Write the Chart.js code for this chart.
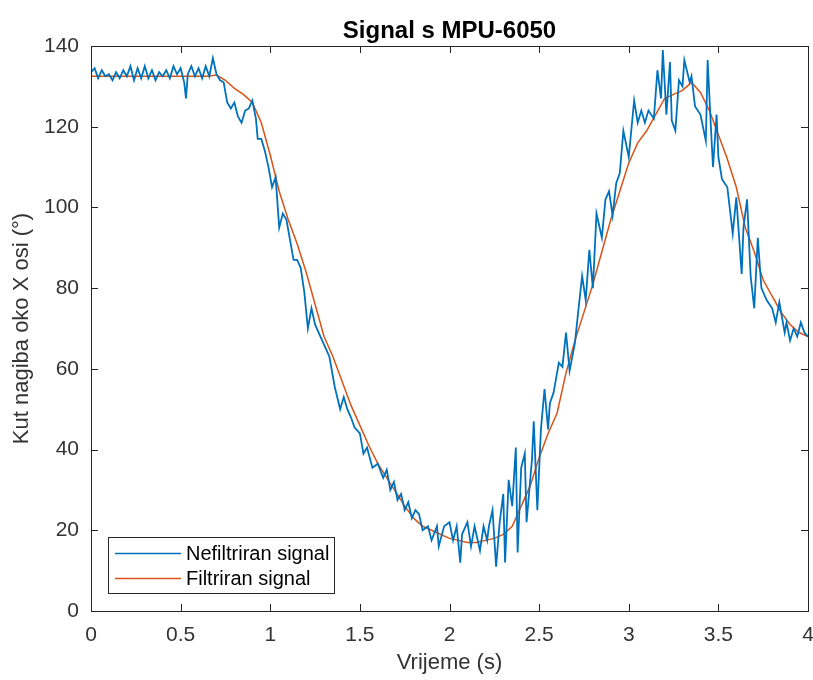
<!DOCTYPE html>
<html>
<head>
<meta charset="utf-8">
<script src="https://cdn.jsdelivr.net/npm/chart.js@4"></script>
<style>
html,body{margin:0;padding:0;background:#fff;}
#wrap{width:813px;height:680px;}
</style>
</head>
<body>
<div id="wrap"><canvas id="c" width="813" height="680"></canvas></div>
<script>
const rawTime = [0.00,0.02,0.04,0.06,0.08,0.10,0.12,0.14,0.16,0.18,0.20,0.22,0.24,0.26,0.28,0.30,0.32,0.34,0.36,0.38,0.40,0.42,0.44,0.46,0.48,0.50,0.52,0.53,0.54,0.56,0.58,0.60,0.62,0.64,0.66,0.68,0.70,0.72,0.74,0.76,0.78,0.80,0.82,0.84,0.86,0.88,0.90,0.92,0.93,0.95,0.97,0.99,1.01,1.03,1.05,1.07,1.09,1.11,1.13,1.15,1.17,1.19,1.21,1.23,1.25,1.27,1.29,1.31,1.33,1.36,1.39,1.41,1.43,1.45,1.47,1.50,1.52,1.54,1.57,1.60,1.63,1.65,1.67,1.69,1.71,1.73,1.75,1.77,1.79,1.81,1.83,1.85,1.88,1.90,1.93,1.94,1.97,2.00,2.02,2.04,2.06,2.07,2.10,2.12,2.14,2.17,2.19,2.21,2.22,2.24,2.26,2.28,2.30,2.31,2.33,2.35,2.37,2.38,2.40,2.42,2.43,2.46,2.47,2.49,2.51,2.53,2.55,2.56,2.58,2.61,2.63,2.65,2.67,2.70,2.72,2.74,2.76,2.78,2.80,2.82,2.85,2.87,2.89,2.91,2.93,2.95,2.97,3.00,3.03,3.05,3.07,3.09,3.11,3.14,3.16,3.18,3.19,3.21,3.23,3.24,3.26,3.28,3.30,3.31,3.34,3.35,3.37,3.40,3.43,3.44,3.46,3.47,3.49,3.50,3.52,3.55,3.58,3.60,3.63,3.64,3.66,3.68,3.70,3.72,3.74,3.77,3.80,3.82,3.84,3.87,3.88,3.90,3.92,3.94,3.96,3.98,4.00];
const rawSignal = [133.5,134.5,132,134,132.5,133,131.5,133.5,132,134,132.5,135,131.5,134.5,132,135,132,134,131.5,133.5,132.5,134,132,135,133,134.5,131,127,133,135,132.5,134.5,132,135,132.5,137,133,131.5,131,126,124.5,126,122.5,121,124,124.5,126.5,122,117,117,114,110,105,107.5,95,98.5,97,92,87,87,85,79,70,75,71,69,67,65,63,55.5,50,53,50,48,45.5,44,39,40.5,35.5,36.5,33,35,30,32,27.5,29,25,27,23,25,24,20,21,17.5,21,16,21,22,17.5,21,12,19,22,16,21,15,21,17.5,21,25,11,22,29,12,32.5,26,40.5,14.5,35.5,39,22,37.5,47,25,45,55,45,51.5,54,61.5,60.5,69,59.5,66.5,75,83,77,89.5,80,98.5,92.5,102,104,98,106,108.5,119,112.5,126.5,121,124,121,124,122,134,127,139,123,136,121.5,119,131.5,130,136.5,131,132.5,125,123,116.5,136.5,118.5,110,123,112.5,107,105,93.5,102.5,83.5,95,102,83,75,92.5,80,77,75,71.5,76.5,69,71.5,67,70,68,71.5,69,68];

const filtTime = [0.00,0.05,0.10,0.15,0.20,0.25,0.30,0.35,0.40,0.45,0.50,0.55,0.60,0.65,0.70,0.75,0.80,0.85,0.90,0.95,1.00,1.05,1.10,1.15,1.20,1.25,1.30,1.35,1.40,1.45,1.50,1.55,1.60,1.65,1.70,1.75,1.80,1.85,1.90,1.95,2.00,2.05,2.10,2.15,2.20,2.25,2.30,2.35,2.40,2.45,2.50,2.55,2.60,2.65,2.70,2.75,2.80,2.85,2.90,2.95,3.00,3.05,3.10,3.15,3.20,3.25,3.30,3.35,3.40,3.45,3.50,3.55,3.60,3.65,3.70,3.75,3.80,3.85,3.90,3.95,4.00];
const filtSignal = [132.5,132.5,132.5,132.5,132.5,132.5,132.5,132.5,132.5,132.5,132.5,132.5,132.5,132.5,132.8,131.5,129.5,128,126,121,113,104,97,91,84,76,68,63,57,51,46,41,36.5,33,29.5,26,23,21,20,19,18,17.5,17,17,17.5,18,19,21,26,31,38,44,49,59,67,74,81,89,97,104,111,116,119,123,127,128,129,131,128.5,124,118,112,105,95,89,82,78,74,71,69,68];

const xTicks = [0,0.5,1,1.5,2,2.5,3,3.5,4];
const yTicks = [0,20,40,60,80,100,120,140];
const seriesNames = ['Nefiltriran signal','Filtriran signal'];

const BLUE = '#0072BD', ORANGE = '#D95319', AXIS = '#262626', TXT = '#333333';
const FONT = '"Liberation Sans", Arial, Helvetica, sans-serif';

const P_LEFT = 91, P_BOTTOM = 611;

const matlabAxes = {
  id: 'matlabAxes',
  afterDatasetsDraw(chart) {
    const {ctx, chartArea: a, scales} = chart;
    ctx.save();
    ctx.strokeStyle = AXIS;
    ctx.lineWidth = 1;
    ctx.beginPath();
    const tl = 7;
    xTicks.forEach(v => {
      const px = Math.round(scales.x.getPixelForValue(v)) + 0.5;
      ctx.moveTo(px, a.bottom); ctx.lineTo(px, a.bottom - tl);
      ctx.moveTo(px, a.top); ctx.lineTo(px, a.top + tl);
    });
    yTicks.forEach(v => {
      const py = Math.round(scales.y.getPixelForValue(v)) + 0.5;
      ctx.moveTo(a.left, py); ctx.lineTo(a.left + tl, py);
      ctx.moveTo(a.right, py); ctx.lineTo(a.right - tl, py);
    });
    ctx.stroke();
    ctx.strokeRect(Math.round(a.left) + 0.5, Math.round(a.top) + 0.5, Math.round(a.right - a.left), Math.round(a.bottom - a.top));
    // legend
    const lx = 108, ly = 537, lw = 226, lh = 56;
    ctx.fillStyle = '#fff';
    ctx.fillRect(lx, ly, lw, lh);
    ctx.strokeStyle = AXIS;
    ctx.strokeRect(lx + 0.5, ly + 0.5, lw, lh);
    const cols = [BLUE, ORANGE];
    const rows = [553, 578];
    ctx.font = '20px ' + FONT;
    ctx.textBaseline = 'middle';
    ctx.textAlign = 'left';
    seriesNames.forEach((n, i) => {
      ctx.strokeStyle = cols[i];
      ctx.lineWidth = 1.4;
      ctx.beginPath();
      ctx.moveTo(115, rows[i] + 0.5); ctx.lineTo(181, rows[i] + 0.5);
      ctx.stroke();
      ctx.fillStyle = '#000';
      ctx.fillText(n, 186, rows[i] + 1);
    });
    ctx.restore();
  }
};

new Chart(document.getElementById('c'), {
  type: 'line',
  data: {
    datasets: [
      {
        label: seriesNames[0],
        data: rawTime.map((t, i) => ({x: t, y: rawSignal[i]})),
        borderColor: BLUE, borderWidth: 1.8, pointRadius: 0, tension: 0, fill: false
      },
      {
        label: seriesNames[1],
        data: filtTime.map((t, i) => ({x: t, y: filtSignal[i]})),
        borderColor: ORANGE, borderWidth: 1.5, pointRadius: 0, tension: 0, fill: false
      }
    ]
  },
  options: {
    responsive: false,
    animation: false,
    devicePixelRatio: 1,
    layout: {padding: {left: 0, right: 5, top: 0, bottom: 0}},
    plugins: {
      legend: {display: false},
      tooltip: {enabled: false},
      title: {
        display: true,
        text: 'Signal s MPU-6050',
        fullSize: false,
        color: '#000',
        font: {family: FONT, size: 24, weight: 'bold', lineHeight: 1.2},
        padding: {top: 17, bottom: 0.2}
      }
    },
    scales: {
      x: {
        type: 'linear',
        min: 0, max: 4,
        afterBuildTicks(s) { s.ticks = xTicks.map(v => ({value: v})); },
        afterFit(s) { s.height = 680 - P_BOTTOM; s.paddingLeft = 0; s.paddingRight = 0; },
        grid: {display: false, drawTicks: false},
        border: {display: false},
        ticks: {
          color: TXT, font: {family: FONT, size: 21}, padding: 12,
          autoSkip: false, maxRotation: 0,
          callback: v => String(v)
        },
        title: {
          display: true, text: 'Vrijeme (s)', color: TXT,
          font: {family: FONT, size: 22}, padding: {top: 0, bottom: 4}
        }
      },
      y: {
        type: 'linear',
        min: 0, max: 140,
        afterBuildTicks(s) { s.ticks = yTicks.map(v => ({value: v})); },
        afterFit(s) { s.width = P_LEFT; s.paddingTop = 0; s.paddingBottom = 0; },
        grid: {display: false, drawTicks: false},
        border: {display: false},
        ticks: {
          color: TXT, font: {family: FONT, size: 21}, padding: 12,
          autoSkip: false
        },
        title: {
          display: true, text: 'Kut nagiba oko X osi (°)', color: TXT,
          font: {family: FONT, size: 22}, padding: {top: 9, bottom: 0}
        }
      }
    }
  },
  plugins: [matlabAxes]
});
</script>
</body>
</html>
